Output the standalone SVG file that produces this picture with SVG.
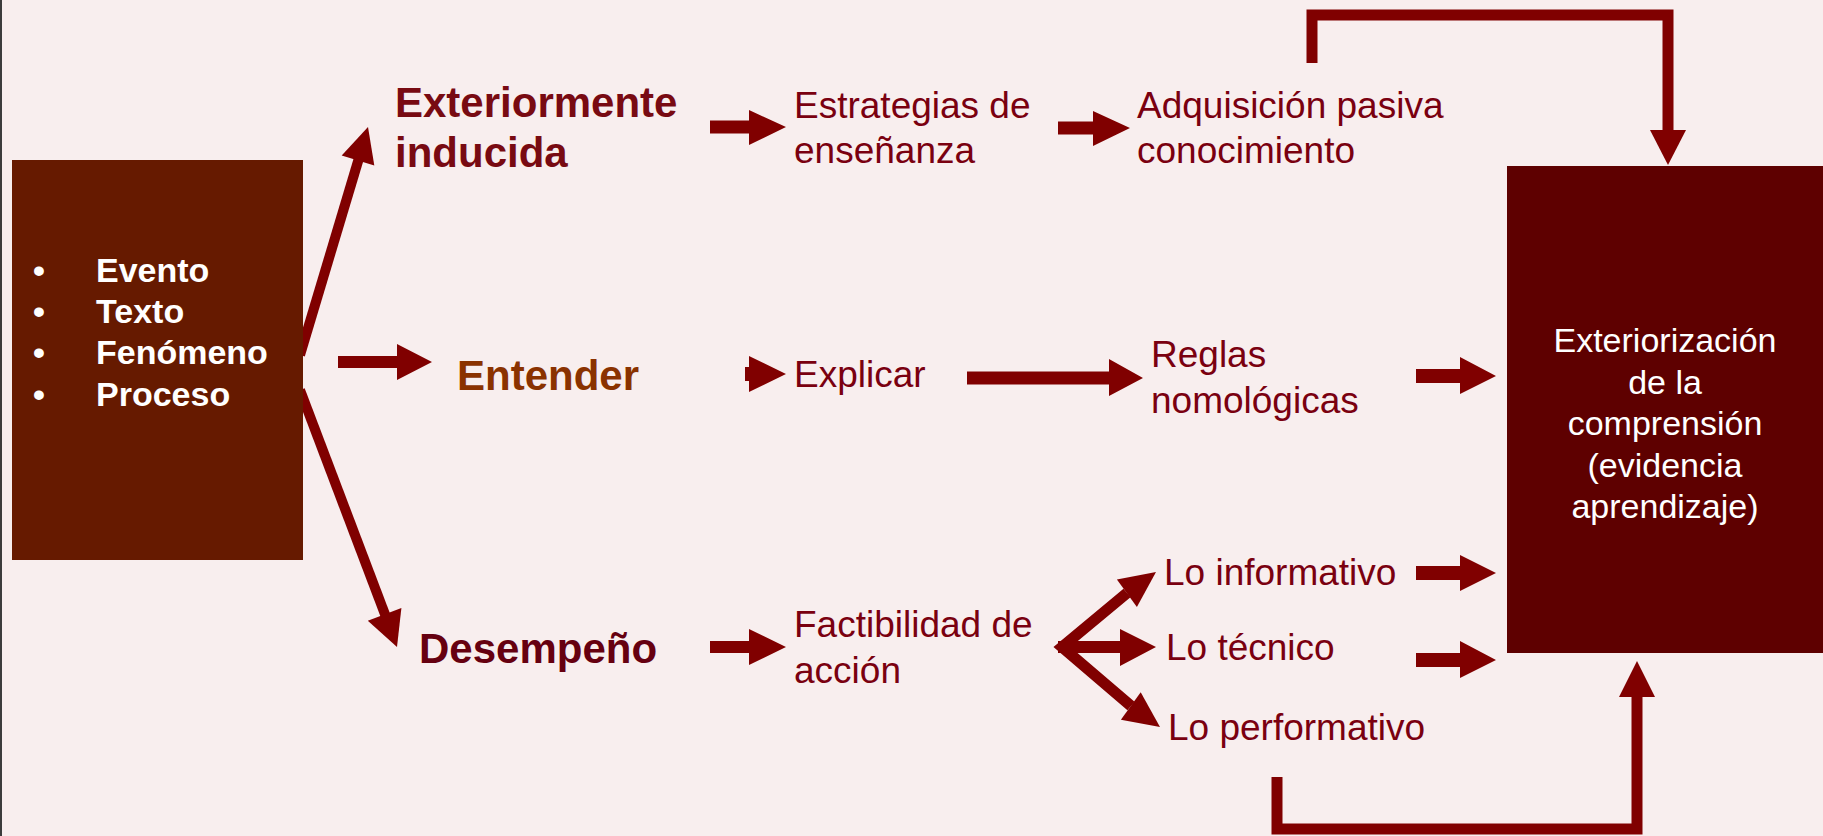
<svg xmlns="http://www.w3.org/2000/svg" width="1823" height="836" viewBox="0 0 1823 836">
<style>
text{font-family:"Liberation Sans",Arial,Helvetica,sans-serif}
.bul{fill:#ffffff;font-size:34px;font-weight:bold}
.big{font-size:42px;font-weight:bold}
.reg{fill:#7a0010;font-size:37px}
.box{fill:#ffffff;font-size:34px;text-anchor:middle}
.arr{fill:#800000}
.ln{fill:none;stroke:#800000;stroke-width:11;stroke-linejoin:miter}
.dl{stroke:#800000;stroke-width:10;fill:none}
</style>
<rect x="0" y="0" width="1823" height="836" fill="#f8eeee"/>
<rect x="0" y="0" width="2" height="836" fill="#3c3c3c"/>

<g id="connectors">
  <line class="dl" x1="300" y1="355" x2="359" y2="158"/>
  <polygon class="arr" points="368,127 374.3,165.4 341.7,155.6"/>
  <line class="dl" x1="300" y1="390" x2="386" y2="617"/>
  <polygon class="arr" points="397,647 367.8,620.7 401.4,607.9"/>
  <polygon class="arr" points="338,356 397,356 397,344 432,362 397,380 397,368 338,368"/>
  <polygon class="arr" points="710,120.5 749,120.5 749,110 786,127 749,145 749,133.5 710,133.5"/>
  <polygon class="arr" points="1058,121.5 1093,121.5 1093,111 1130,128 1093,146 1093,134.5 1058,134.5"/>
  <polygon class="arr" points="745,367 749,367 749,356 786,374 749,392 749,381 745,381"/>
  <polygon class="arr" points="967,371.5 1109,371.5 1109,359 1143,378 1109,396 1109,384.5 967,384.5"/>
  <polygon class="arr" points="1416,369 1460,369 1460,357 1496,376 1460,394 1460,383 1416,383"/>
  <polygon class="arr" points="1416,566 1460,566 1460,555 1496,573 1460,591 1460,580 1416,580"/>
  <polygon class="arr" points="1416,653 1460,653 1460,641 1496,660 1460,678 1460,667 1416,667"/>
  <polygon class="arr" points="710,641 749,641 749,629 786,647 749,665 749,653 710,653"/>
  <polyline class="ln" points="1127,593 1062,647 1131,706"/>
  <polygon class="arr" points="1058,641 1120,641 1120,629 1156,647 1120,666 1120,653 1058,653"/>
  <polygon class="arr" points="1156,572 1136.9,606.9 1116.9,579.5"/>
  <polygon class="arr" points="1160,727 1120.9,719.8 1140.7,692.2"/>
  <path class="ln" d="M1312,63 V15 H1668 V131"/>
  <polygon class="arr" points="1650,130 1686,130 1668,165"/>
  <path class="ln" d="M1277,777 V829 H1637 V696"/>
  <polygon class="arr" points="1619,697 1655,697 1637,661"/>
</g>

<g id="source">
  <rect x="12" y="160" width="291" height="400" fill="#661a00"/>
  <text class="bul" x="33" y="282" font-weight="normal">•</text>
  <text class="bul" x="33" y="323" font-weight="normal">•</text>
  <text class="bul" x="33" y="364" font-weight="normal">•</text>
  <text class="bul" x="33" y="406" font-weight="normal">•</text>
  <text class="bul" x="96" y="282">Evento</text>
  <text class="bul" x="96" y="323">Texto</text>
  <text class="bul" x="96" y="364">Fenómeno</text>
  <text class="bul" x="96" y="406">Proceso</text>
</g>

<g id="exteriormente">
  <text class="big" x="395" y="117" fill="#780a12">Exteriormente</text>
  <text class="big" x="395" y="167" fill="#780a12">inducida</text>
</g>
<g id="entender">
  <text class="big" x="457" y="390" fill="#8a3200">Entender</text>
</g>
<g id="desempeno">
  <text class="big" x="419" y="663" fill="#660010">Desempeño</text>
</g>

<g id="estrategias">
  <text class="reg" x="794" y="118">Estrategias de</text>
  <text class="reg" x="794" y="163">enseñanza</text>
</g>
<g id="adquisicion">
  <text class="reg" x="1137" y="118">Adquisición pasiva</text>
  <text class="reg" x="1137" y="163">conocimiento</text>
</g>
<g id="explicar">
  <text class="reg" x="794" y="387">Explicar</text>
</g>
<g id="reglas">
  <text class="reg" x="1151" y="367">Reglas</text>
  <text class="reg" x="1151" y="413">nomológicas</text>
</g>
<g id="factibilidad">
  <text class="reg" x="794" y="637">Factibilidad de</text>
  <text class="reg" x="794" y="683">acción</text>
</g>
<g id="informativo">
  <text class="reg" x="1164" y="585">Lo informativo</text>
</g>
<g id="tecnico">
  <text class="reg" x="1166" y="660">Lo técnico</text>
</g>
<g id="performativo">
  <text class="reg" x="1168" y="740">Lo performativo</text>
</g>

<g id="exteriorizacion">
  <rect x="1507" y="166" width="316" height="487" fill="#5e0000"/>
  <text class="box" x="1665" y="352">Exteriorización</text>
  <text class="box" x="1665" y="394">de la</text>
  <text class="box" x="1665" y="435">comprensión</text>
  <text class="box" x="1665" y="477">(evidencia</text>
  <text class="box" x="1665" y="518">aprendizaje)</text>
</g>
</svg>
